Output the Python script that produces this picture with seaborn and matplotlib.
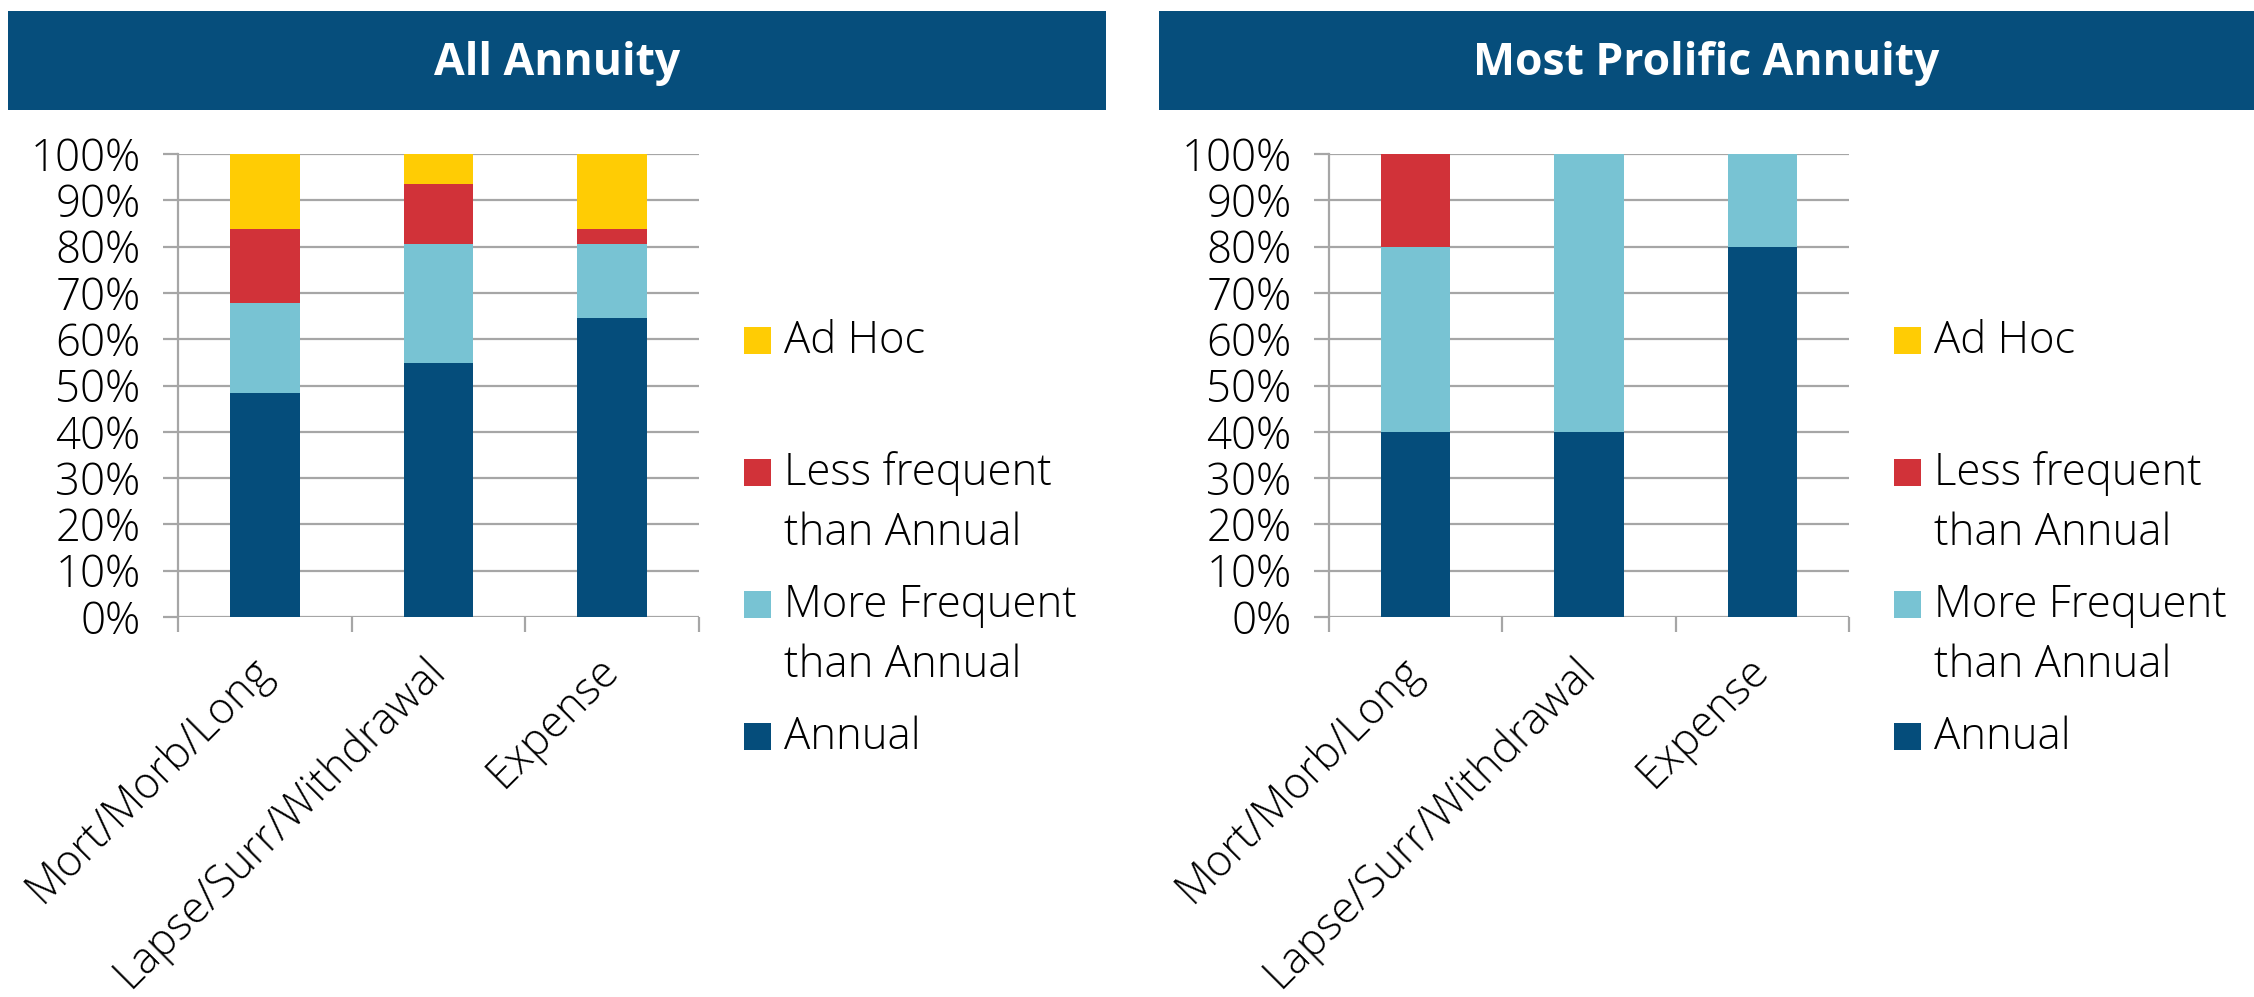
import matplotlib
matplotlib.use("Agg")
import matplotlib.pyplot as plt
from matplotlib.patches import Rectangle
from matplotlib.ticker import FuncFormatter, FixedLocator
import seaborn as sns
import pandas as pd

# ---------------- data ----------------
categories = ["Mort/Morb/Long", "Lapse/Surr/Withdrawal", "Expense"]
series_names = ["Annual", "More Frequent than Annual", "Less frequent than Annual", "Ad Hoc"]
legend_labels = ["Annual", "More Frequent\nthan Annual", "Less frequent\nthan Annual", "Ad Hoc"]

all_annual = [48.4, 54.8, 64.5]
all_more = [19.4, 25.8, 16.1]
all_less = [16.1, 12.9, 3.2]
all_adhoc = [16.1, 6.5, 16.1]

pro_annual = [40.0, 40.0, 80.0]
pro_more = [40.0, 60.0, 20.0]
pro_less = [20.0, 0.0, 0.0]
pro_adhoc = [0.0, 0.0, 0.0]

titles = ["All Annuity", "Most Prolific Annuity"]
yticks = [0, 10, 20, 30, 40, 50, 60, 70, 80, 90, 100]

colors = ["#054D7B", "#78C3D3", "#D13239", "#FFCC04"]
banner_color = "#064E7C"
grid_color = "#A6A6A6"

sns.set_theme(style="white")
plt.rcParams["font.family"] = ["Open Sans", "DejaVu Sans"]

W, H = 2254, 997
fig = plt.figure(figsize=(W / 100, H / 100), dpi=100)
FS = 31.5


def fx(px):
    return px / W


def fy(py):
    return 1 - py / H


def draw_panel(ax, series):
    df = pd.DataFrame({"category": categories})
    cum = [0.0] * len(categories)
    cums = []
    for s in series:
        cum = [c + v for c, v in zip(cum, s)]
        cums.append(cum)
    # draw from tallest cumulative layer down so the stack shows
    for cumvals, col in reversed(list(zip(cums, colors))):
        df["value"] = cumvals
        sns.barplot(data=df, x="category", y="value", color=col, saturation=1,
                    width=0.4, linewidth=0, ax=ax, errorbar=None)
    ax.set_xlim(-0.5, len(categories) - 0.5)
    ax.set_ylim(0, 100)
    ax.set_yticks(yticks)
    ax.yaxis.set_major_formatter(FuncFormatter(lambda v, p: f"{int(v)}%"))
    ax.grid(axis="y", color=grid_color, linewidth=1.6, zorder=0)
    ax.set_axisbelow(True)
    for side in ["top", "right", "bottom"]:
        ax.spines[side].set_visible(False)
    ax.spines["left"].set_color(grid_color)
    ax.spines["left"].set_linewidth(1.6)
    ax.set_xlabel("")
    ax.set_ylabel("")
    ax.tick_params(axis="y", length=11, width=1.6, color=grid_color, pad=16,
                   labelsize=FS, labelcolor="#000000", left=True)
    ax.xaxis.set_minor_locator(FixedLocator([-0.5 + i for i in range(len(categories) + 1)]))
    ax.tick_params(axis="x", which="minor", length=11, width=1.6, color=grid_color, bottom=True)
    ax.tick_params(axis="x", which="major", length=0, pad=34, labelsize=FS, labelcolor="#000000")
    ax.set_xticks(range(len(categories)))
    ax.set_xticklabels(categories, rotation=45, ha="right", va="center", rotation_mode="anchor")
    for lab in ax.get_xticklabels() + ax.get_yticklabels():
        lab.set_fontweight("light")


panels = [
    ([all_annual, all_more, all_less, all_adhoc], 178, 699),
    ([pro_annual, pro_more, pro_less, pro_adhoc], 1329, 1849),
]
banners = [(8, 1106), (1159, 2254)]

for i, (series, x0, x1) in enumerate(panels):
    ax = fig.add_axes([fx(x0), fy(617), fx(x1 - x0), (617 - 154) / H])
    draw_panel(ax, series)

    # title banner
    b0, b1 = banners[i]
    fig.add_artist(Rectangle((fx(b0), fy(110)), fx(b1 - b0), (110 - 11) / H,
                             transform=fig.transFigure, facecolor=banner_color,
                             edgecolor="none", zorder=0))
    fig.text(fx((b0 + b1) / 2), fy(75), titles[i], color="white", fontsize=32,
             fontweight="bold", ha="center", va="baseline")

    # legend (top to bottom: Ad Hoc, Less, More, Annual)
    mx = x1 + 45
    for k, idx in enumerate([3, 2, 1, 0]):
        base = 353 + 132 * k
        cy = base - 13
        fig.add_artist(Rectangle((fx(mx), fy(cy + 13.5)), fx(27), 27 / H,
                                 transform=fig.transFigure, facecolor=colors[idx],
                                 edgecolor="none"))
        for j, line in enumerate(legend_labels[idx].split("\n")):
            fig.text(fx(mx + 40), fy(base + 60 * j), line, fontsize=FS,
                     fontweight="light", ha="left", va="baseline", color="#000000")

fig.savefig("out.png", dpi=100, facecolor="white")
